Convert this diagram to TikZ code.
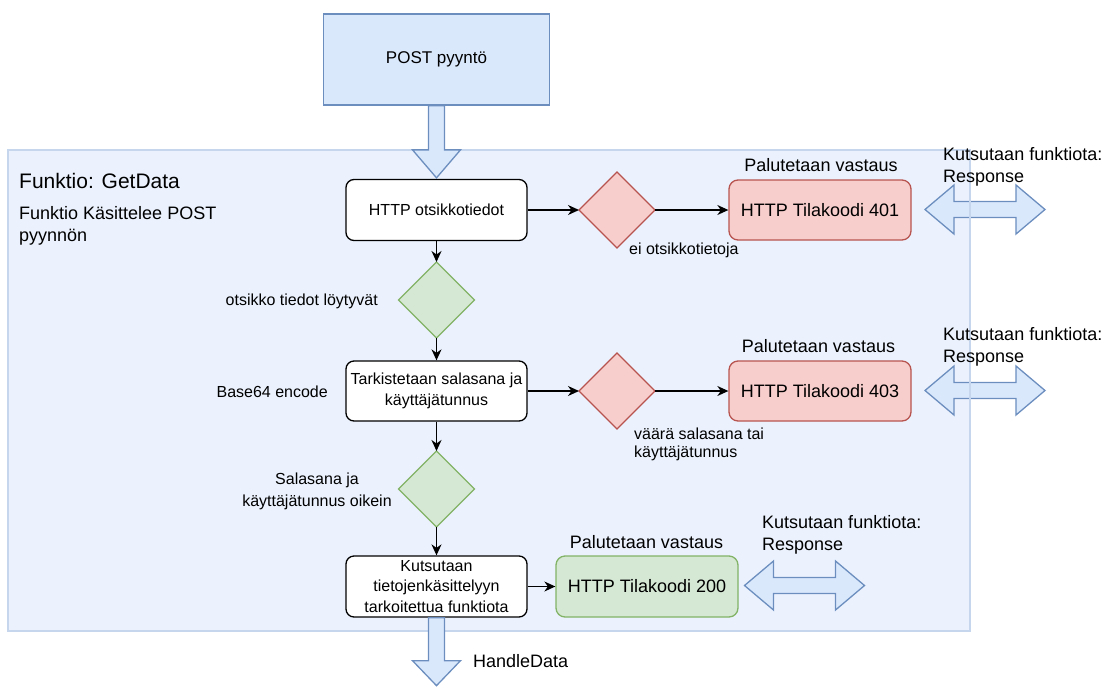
\documentclass[tikz,border=0pt]{standalone}
\usepackage{fontspec}
\setmainfont{Liberation Sans}
\usetikzlibrary{arrows.meta,shapes.geometric,calc}
\definecolor{bfill}{HTML}{DAE8FC}
\definecolor{bdraw}{HTML}{6C8EBF}
\definecolor{cfill}{HTML}{EBF2FD}
\definecolor{cdraw}{HTML}{C6D6EC}
\definecolor{rfill}{HTML}{F8CECC}
\definecolor{rdraw}{HTML}{B85450}
\definecolor{gfill}{HTML}{D5E8D4}
\definecolor{gdraw}{HTML}{82B366}
\newcommand\dblarrowshape[1]{\draw[barrow] ($(#1)+(-60,0)$) -- ++(29,-24.5) -- ++(0,16.5) -- ++(62,0) -- ++(0,-16.5) -- ++(29,24.5) -- ++(-29,24.5) -- ++(0,-16.5) -- ++(-62,0) -- ++(0,16.5) -- cycle;}
\begin{document}
\begin{tikzpicture}[x=1pt,y=-1pt,
  fbig/.style={font=\fontsize{18}{22}\selectfont},
  fsmall/.style={font=\fontsize{16}{21}\selectfont},
  proc/.style={draw=black, fill=white, rounded corners=8pt, line width=1.3pt, minimum width=181pt, minimum height=61pt, inner sep=0pt, align=center, fsmall},
  res/.style={rounded corners=9pt, line width=1.3pt, minimum width=182pt, minimum height=61pt, inner sep=0pt, fbig},
  dia/.style={diamond, minimum width=76pt, minimum height=76pt, inner sep=0pt, outer sep=0pt, line width=1.3pt},
  lbl/.style={inner sep=0pt},
  conn/.style={line width=1.3pt, -{Stealth[length=11pt,width=10pt,inset=3.5pt]}},
  barrow/.style={fill=bfill, draw=bdraw, line width=1.3pt, line join=miter},
]
\useasboundingbox (0,0) rectangle (1106,686);

% container
\node[draw=cdraw, fill=cfill, line width=1.5pt, minimum width=962pt, minimum height=481pt, inner sep=0pt, outer sep=0pt, anchor=north west] (cont) at (8,150) {};

% double arrows (right side)
\coordinate (da1) at (985,209.5);
\coordinate (da2) at (985,390.5);
\coordinate (da3) at (804.5,585.5);
\dblarrowshape{da1}
\dblarrowshape{da2}
\dblarrowshape{da3}
\draw[cdraw, line width=1.5pt] (cont.north west) rectangle (cont.south east);

% top request box
\node[draw=bdraw, fill=bfill, line width=1.3pt, minimum width=226pt, minimum height=91pt, inner sep=0pt, font=\fontsize{17}{20}\selectfont] (post) at (436.5,59.5) {POST pyyntö};

% process boxes
\node[proc] (h1) at (436.5,210) {HTTP otsikkotiedot};
\node[proc, minimum height=60pt] (t) at (436.5,391) {Tarkistetaan salasana ja\\käyttäjätunnus};
\node[proc, font=\fontsize{16}{20.5}\selectfont] (k) at (436.5,586.5) {Kutsutaan\\tietojenkäsittelyyn\\tarkoitettua funktiota};

% decisions
\node[dia, fill=rfill, draw=rdraw] (d1) at (617,210) {};
\node[dia, fill=rfill, draw=rdraw] (d2) at (617,391) {};
\node[dia, fill=gfill, draw=gdraw] (g1) at (436.5,300) {};
\node[dia, fill=gfill, draw=gdraw] (g2) at (436.5,489) {};

% result boxes
\node[res, fill=rfill, draw=rdraw, minimum height=60pt] (r401) at (820,210) {HTTP Tilakoodi 401};
\node[res, fill=rfill, draw=rdraw, minimum height=60pt] (r403) at (820,391) {HTTP Tilakoodi 403};
\node[res, fill=gfill, draw=gdraw] (r200) at (647,586.5) {HTTP Tilakoodi 200};

% block arrows
\draw[barrow] ($(post.south)+(-8,0)$) -- ($(post.south)+(8,0)$) -- ($(h1.north)+(8,-29)$) -- ($(h1.north)+(24,-29)$) -- ($(h1.north)+(0,-1)$) -- ($(h1.north)+(-24,-29)$) -- ($(h1.north)+(-8,-29)$) -- cycle;
\draw[barrow] ($(k.south)+(-8,0)$) -- ($(k.south)+(-8,43)$) -- ($(k.south)+(-24,43)$) -- ($(k.south)+(0,68)$) -- ($(k.south)+(24,43)$) -- ($(k.south)+(8,43)$) -- ($(k.south)+(8,0)$) -- cycle;

% connectors
\draw[conn] (h1) -- (d1);
\draw[conn] (d1) -- (r401);
\draw[conn] (h1) -- (g1);
\draw[conn] (g1) -- (t);
\draw[conn] (t) -- (d2);
\draw[conn] (d2) -- (r403);
\draw[conn] (t) -- (g2);
\draw[conn] (g2) -- (k);
\draw[conn] (k) -- (r200);

% labels
\node[lbl, anchor=base west, font=\fontsize{21}{25}\selectfont] (title) at (19,188) {Funktio: GetData};
\node[lbl, anchor=north west, align=left, fbig] (desc) at (19,206) {Funktio Käsittelee POST\\pyynnön};
\node[lbl, anchor=base, fbig] (pv1) at (821,171) {Palutetaan vastaus};
\node[lbl, anchor=base, fbig] (pv2) at (818.5,352) {Palutetaan vastaus};
\node[lbl, anchor=base, fbig] (pv3) at (646.5,548) {Palutetaan vastaus};
\node[lbl, anchor=north west, align=left, fbig] (kf1) at (943,147) {Kutsutaan funktiota:\\Response};
\node[lbl, anchor=north west, align=left, fbig] (kf2) at (943,327) {Kutsutaan funktiota:\\Response};
\node[lbl, anchor=north west, align=left, fbig] (kf3) at (762,515) {Kutsutaan funktiota:\\Response};
\node[lbl, anchor=base west, fsmall] (l1) at (629,254) {ei otsikkotietoja};
\node[lbl, anchor=north west, align=left, font=\fontsize{16}{18}\selectfont] (l2) at (634,427.5) {väärä salasana tai\\käyttäjätunnus};
\node[lbl, anchor=base east, fsmall] (l3) at (378,305.5) {otsikko tiedot löytyvät};
\node[lbl, anchor=base east, fsmall] (l4) at (328,397) {Base64 encode};
\node[lbl, anchor=north, align=center, font=\fontsize{16}{22}\selectfont] (l5) at (317,472.5) {Salasana ja\\käyttäjätunnus oikein};
\node[lbl, anchor=base west, fbig] (hd) at (473,667) {HandleData};
\end{tikzpicture}
\end{document}
